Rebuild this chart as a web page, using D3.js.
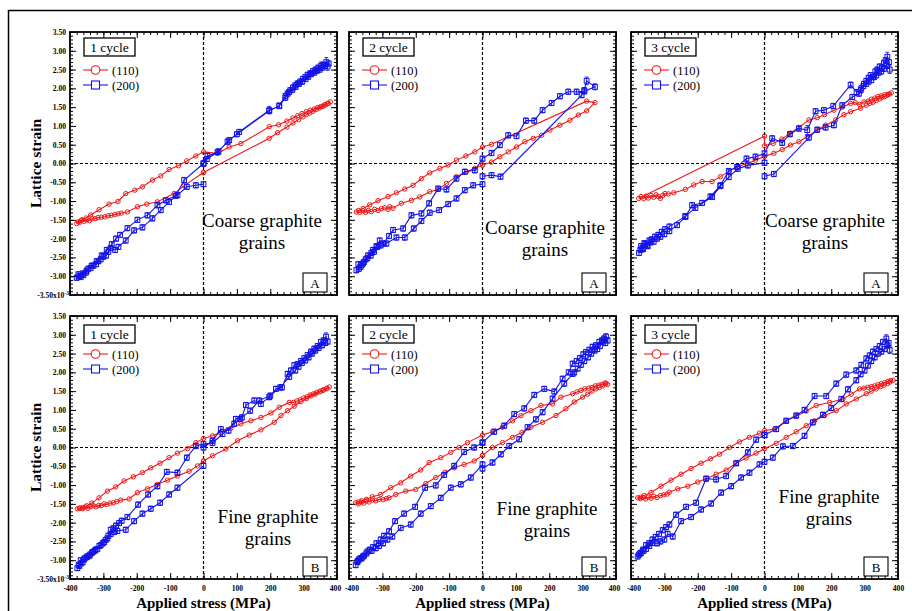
<!DOCTYPE html>
<html>
<head>
<meta charset="utf-8">
<script src="https://cdn.jsdelivr.net/npm/d3@7"></script>
<style>
  html, body { margin: 0; padding: 0; background: #fff; }
  svg { display: block; }
  text { font-family: "Liberation Serif", "Times New Roman", serif; fill: #000; }
  .tick text { font-size: 7.6px; font-weight: bold; }
  .tick line { stroke: #000; stroke-width: 1; }
  .zero-line { stroke: #000; stroke-width: 1.2; stroke-dasharray: 3,2; }
</style>
</head>
<body>
<svg id="chart" width="912" height="611"></svg>
<script>
// Lattice strain vs applied stress, six hysteresis panels (coarse / fine graphite, cycles 1-3).

const stressTicks = [-400, -300, -200, -100, 0, 100, 200, 300, 400];
const strainTicks = [-3.5, -3, -2.5, -2, -1.5, -1, -0.5, 0, 0.5, 1, 1.5, 2, 2.5, 3, 3.5];
const cycleLabels = ["1 cycle", "2 cycle", "3 cycle"];
const grainLabels = [["Coarse graphite", "grains"], ["Fine graphite", "grains"]];
const panelLetters = ["A", "B"];
const seriesNames = ["(110)", "(200)"];

// [stress MPa, strain x1e-3, optional error half-width]
const coarse1Red = [[0,-0.24],[197,0.67],[222,0.82],[250,0.97],[268,1.08],[285,1.17],[298,1.24],[308,1.3],[318,1.34],[328,1.39],[338,1.44],[348,1.48],[358,1.52],[366,1.56],[374,1.6],[380,1.64],[372,1.6],[362,1.56],[352,1.52],[342,1.49],[332,1.45],[320,1.42],[308,1.38],[295,1.33],[282,1.27],[268,1.21],[250,1.13],[225,1.03],[197,0.98],[112,0.53],[77,0.44],[42,0.27],[0,0.31],[-23,0.2],[-50,0.07],[-75,-0.06],[-103,-0.16],[-128,-0.33],[-153,-0.44],[-183,-0.62],[-206,-0.71],[-233,-0.8],[-256,-1.01],[-283,-1.08],[-313,-1.23],[-338,-1.37],[-352,-1.45],[-364,-1.5],[-375,-1.55],[-380,-1.6],[-372,-1.57],[-366,-1.51],[-358,-1.54],[-350,-1.5],[-342,-1.52],[-334,-1.47],[-325,-1.47],[-316,-1.44],[-306,-1.43],[-296,-1.42],[-286,-1.39],[-276,-1.38],[-266,-1.36],[-256,-1.34],[-246,-1.32],[-228,-1.29],[-198,-1.15],[-170,-1.08],[-138,-1.02],[-88,-0.8],[-58,-0.59],[0,-0.24]];
const coarse1Blue = [[0,0],[12,0.2],[42,0.3],[77,0.62],[107,0.84],[197,1.42,0.1],[227,1.53],[245,1.75],[252,1.86],[260,1.95],[268,2.02],[275,2.08],[282,2.13],[290,2.18],[298,2.25],[305,2.3],[312,2.36],[320,2.4],[328,2.46],[336,2.5],[344,2.55],[352,2.6,0.1],[360,2.63],[368,2.7,0.12],[375,2.66],[372,2.58,0.1],[364,2.6],[356,2.55],[348,2.5],[340,2.47],[332,2.42],[322,2.38],[314,2.31],[306,2.25],[296,2.18],[286,2.12],[276,2.04],[266,1.96],[256,1.9],[246,1.8],[227,1.54],[197,1.4],[100,0.78],[72,0.58],[45,0.32],[10,0.12],[0,0],[-58,-0.44],[-83,-0.86],[-113,-0.98],[-138,-1.11],[-168,-1.38],[-198,-1.5],[-228,-1.72],[-250,-1.9],[-262,-2.0],[-275,-2.15],[-290,-2.3],[-305,-2.45],[-320,-2.6],[-335,-2.72],[-350,-2.85],[-362,-2.93],[-372,-3.0],[-380,-3.04],[-375,-2.95],[-368,-3.02],[-360,-2.97],[-352,-2.9],[-345,-2.8],[-338,-2.78],[-330,-2.72],[-322,-2.68],[-315,-2.6],[-308,-2.55],[-300,-2.48],[-292,-2.45],[-285,-2.35],[-278,-2.25],[-265,-2.3],[-255,-2.22],[-233,-2.05],[-208,-1.78],[-183,-1.7],[-153,-1.46],[-128,-1.24],[-103,-1.02],[-78,-0.84],[-50,-0.62],[-23,-0.58],[0,-0.55]];

const coarse2Red = [[0,-0.04],[27,0.04],[52,0.18],[77,0.31],[102,0.44],[127,0.58],[152,0.67],[177,0.75],[202,0.89],[232,1.02],[262,1.15],[287,1.29],[312,1.4],[337,1.62],[312,1.66],[27,0.51],[0,0.44],[-23,0.31],[-50,0.2],[-78,0.09],[-103,-0.04],[-128,-0.13],[-158,-0.25],[-183,-0.4],[-208,-0.58],[-233,-0.68],[-258,-0.78],[-283,-0.88],[-313,-0.99],[-338,-1.1],[-358,-1.2],[-372,-1.25],[-378,-1.29],[-368,-1.3],[-358,-1.26],[-350,-1.3],[-342,-1.25],[-333,-1.28],[-323,-1.22],[-313,-1.25],[-303,-1.2],[-293,-1.18],[-283,-1.22],[-278,-1.15],[-268,-1.19],[-243,-1.06],[-213,-0.98],[-188,-0.89],[-158,-0.75],[-133,-0.69],[-108,-0.53],[-78,-0.35],[-48,-0.22],[-23,-0.13],[0,-0.04]];
const coarse2Blue = [[0,-0.34],[27,-0.31],[54,-0.35],[297,1.82],[305,1.95],[312,2.2,0.1],[337,2.04,0.08],[305,1.92],[282,1.91],[257,1.91],[232,1.79],[207,1.61],[180,1.42],[155,1.14],[130,1.14],[102,0.73],[77,0.75],[52,0.49],[27,0.28],[0,0.13],[-23,-0.18],[-53,-0.22],[-78,-0.4],[-108,-0.69],[-133,-0.67],[-160,-1.06],[-183,-1.33],[-213,-1.38],[-238,-1.73],[-268,-1.77],[-280,-1.93],[-298,-2.13],[-308,-2.05],[-318,-2.2],[-328,-2.3],[-333,-2.38],[-343,-2.45],[-350,-2.55],[-358,-2.66],[-365,-2.75],[-372,-2.68],[-378,-2.84],[-370,-2.8],[-362,-2.7],[-355,-2.62],[-345,-2.52],[-335,-2.45],[-325,-2.35],[-315,-2.22],[-305,-2.18],[-288,-2.13],[-258,-1.97],[-233,-1.97],[-206,-1.73],[-183,-1.53],[-158,-1.31],[-130,-1.24],[-103,-1.08],[-78,-0.93],[-53,-0.71],[-28,-0.58],[0,-0.55]];

const coarse3Red = [[0,0.19],[28,0.27],[53,0.37],[78,0.49],[103,0.58],[128,0.71],[158,0.89],[183,1.02],[213,1.16],[238,1.3],[258,1.38],[288,1.47],[305,1.55],[315,1.6],[325,1.63],[335,1.68],[345,1.72],[352,1.76],[360,1.78],[368,1.82],[375,1.85],[380,1.88],[370,1.84],[360,1.83],[350,1.8],[340,1.78],[330,1.74],[320,1.71],[310,1.66],[298,1.64],[285,1.57],[272,1.62],[258,1.6],[233,1.5],[208,1.42],[180,1.3],[158,1.22],[133,1.16],[103,0.96],[78,0.81],[52,0.65],[26,0.53],[0,0.47],[0,0.73],[-377,-0.93],[-370,-0.88],[-362,-0.93],[-355,-0.87],[-348,-0.92],[-340,-0.85],[-332,-0.9],[-325,-0.83],[-318,-0.88],[-312,-0.93],[-305,-0.85],[-298,-0.8],[-288,-0.81],[-272,-0.78],[-237,-0.69],[-212,-0.57],[-187,-0.48],[-157,-0.48],[-132,-0.35],[-107,-0.21],[-80,-0.08],[-52,0.0],[-27,0.09],[0,0.19]];
const coarse3Blue = [[0,-0.34],[28,-0.28],[133,0.69],[158,0.9],[183,0.96],[208,1.02],[233,1.55],[263,1.77],[283,1.86],[290,2.0],[298,2.12],[305,2.2],[312,2.28],[318,2.35],[325,2.3],[332,2.45],[338,2.5],[345,2.58],[352,2.55],[358,2.68],[363,2.75],[368,2.84,0.12],[373,2.7],[375,2.5,0.1],[366,2.6],[358,2.52],[350,2.45],[342,2.42],[335,2.35],[328,2.3],[320,2.22],[312,2.18],[305,2.12],[296,2.06],[288,1.95],[276,1.9],[258,2.09,0.08],[206,1.53],[178,1.42],[153,1.39],[128,0.89,0.12],[103,0.93],[76,0.78],[53,0.55],[23,0.67],[0,0.27],[-27,0.18],[-54,0.13],[-82,-0.09],[-107,-0.2],[-132,-0.58],[-162,-0.88],[-187,-1.05],[-217,-1.11],[-237,-1.42],[-262,-1.64],[-285,-1.8],[-300,-1.88],[-312,-1.95],[-322,-2.0],[-332,-2.08],[-342,-2.1],[-350,-2.2],[-358,-2.15],[-364,-2.28],[-370,-2.2],[-376,-2.38],[-372,-2.3],[-366,-2.25],[-360,-2.12],[-352,-2.18],[-345,-2.05],[-338,-2.02],[-328,-1.95],[-318,-1.9],[-308,-1.82],[-298,-1.75],[-285,-1.68],[-237,-1.4],[-207,-1.18],[-157,-0.89],[-132,-0.6],[-107,-0.36],[-80,-0.14],[-50,-0.05],[0,0.02]];

const fine1Red = [[0,-0.36],[27,-0.22],[67,-0.04],[102,0.18],[137,0.33],[172,0.47],[212,0.67],[232,0.85],[252,0.98],[272,1.1],[292,1.22],[308,1.3],[322,1.37],[335,1.42],[348,1.48],[358,1.52],[368,1.56],[377,1.61],[370,1.58],[360,1.54],[350,1.5],[340,1.47],[330,1.43],[320,1.4],[310,1.35],[300,1.32],[290,1.27],[280,1.24],[270,1.2],[257,1.2],[227,1.07],[202,0.92],[172,0.8],[142,0.71],[112,0.63],[82,0.51],[50,0.4],[27,0.31],[0,0.24],[-23,0.13],[-48,-0.03],[-78,-0.15],[-103,-0.27],[-130,-0.42],[-158,-0.54],[-183,-0.67],[-210,-0.78],[-238,-0.89],[-263,-1.05],[-288,-1.16],[-313,-1.34],[-335,-1.48],[-350,-1.55],[-362,-1.6],[-372,-1.62],[-378,-1.63],[-370,-1.61],[-362,-1.63],[-354,-1.58],[-346,-1.62],[-338,-1.57],[-330,-1.55],[-322,-1.58],[-314,-1.54],[-306,-1.55],[-298,-1.5],[-290,-1.52],[-280,-1.48],[-270,-1.47],[-260,-1.44],[-248,-1.4],[-223,-1.37],[-198,-1.2],[-168,-1.1],[-138,-0.98],[-108,-0.87],[-78,-0.76],[-43,-0.63],[-18,-0.49],[0,-0.36]];
const fine1Blue = [[0,0],[27,0.18],[52,0.49],[75,0.45],[97,0.76],[115,0.8],[127,1.13],[152,1.25],[172,1.16],[197,1.34],[217,1.56],[235,1.6],[252,1.96],[262,2.05],[272,2.19],[282,2.22],[292,2.3],[302,2.38],[312,2.46],[322,2.55],[332,2.63],[342,2.7],[352,2.81],[360,2.85],[367,2.95,0.1],[372,2.82],[365,2.78],[355,2.72],[345,2.65],[335,2.58],[325,2.5],[315,2.4],[305,2.32],[295,2.25],[285,2.15],[275,2.05],[257,1.88],[230,1.6],[200,1.38],[167,1.25],[140,0.98],[110,0.76],[92,0.63],[57,0.36],[27,0.12],[0,0.09],[-23,0.04],[-50,-0.27],[-78,-0.67],[-110,-0.65],[-138,-1.03],[-166,-1.25],[-196,-1.52],[-228,-1.85],[-245,-1.95],[-253,-2.01],[-262,-2.08],[-270,-2.15],[-278,-2.19],[-285,-2.35],[-293,-2.46],[-302,-2.55],[-312,-2.62],[-323,-2.72],[-332,-2.78],[-340,-2.85],[-348,-2.9],[-356,-2.95],[-362,-3.05],[-368,-3.0],[-374,-3.12],[-378,-3.21],[-372,-3.15],[-366,-3.08],[-358,-2.98],[-350,-2.92],[-342,-2.88],[-334,-2.8],[-326,-2.75],[-318,-2.7],[-308,-2.6],[-298,-2.52],[-288,-2.42],[-278,-2.3],[-268,-2.25],[-258,-2.22],[-233,-2.19],[-208,-1.96],[-183,-1.76],[-158,-1.63],[-130,-1.47],[-103,-1.25],[-78,-1.07],[0,-0.49]];

const fine2Red = [[0,-0.21],[30,0.0],[60,0.13],[90,0.27],[118,0.4],[145,0.54],[180,0.67],[220,0.85],[250,1.03],[275,1.21],[300,1.34],[315,1.42],[328,1.5],[340,1.56],[350,1.6],[360,1.64],[370,1.7],[375,1.68],[368,1.72],[358,1.68],[348,1.66],[338,1.64],[328,1.6],[318,1.58],[306,1.56],[295,1.52],[283,1.48],[270,1.43],[235,1.34],[210,1.16],[175,1.12],[145,0.98],[115,0.85],[90,0.71],[60,0.54],[30,0.42],[0,0.33],[-45,0.13],[-70,0.0],[-95,-0.13],[-125,-0.27],[-160,-0.4],[-185,-0.6],[-215,-0.76],[-245,-0.94],[-275,-1.07],[-305,-1.25],[-330,-1.31],[-348,-1.38],[-362,-1.42],[-372,-1.45],[-380,-1.47],[-372,-1.5],[-364,-1.45],[-356,-1.48],[-348,-1.42],[-340,-1.45],[-330,-1.4],[-320,-1.42],[-310,-1.38],[-298,-1.39],[-288,-1.36],[-280,-1.34],[-260,-1.25],[-230,-1.16],[-200,-1.12],[-170,-0.96],[-140,-0.8],[-112,-0.66],[-85,-0.54],[-55,-0.45],[-25,-0.36],[0,-0.21]];
const fine2Blue = [[0,0.13],[35,0.42],[65,0.58],[95,0.89],[125,1.04],[155,1.4],[185,1.56],[215,1.49],[240,1.83],[258,2.0],[270,2.23],[282,2.3],[292,2.38],[302,2.48],[310,2.54],[320,2.6],[330,2.68],[340,2.72],[350,2.81],[358,2.85],[364,2.9],[370,2.95,0.08],[375,2.85],[368,2.78],[360,2.82],[352,2.7],[344,2.62],[336,2.58],[326,2.5],[316,2.4],[305,2.3],[295,2.2],[285,2.1],[275,2.0],[270,1.96],[245,1.7],[210,1.3],[180,0.94],[160,0.75],[135,0.54],[110,0.22],[80,0.04],[55,-0.18],[30,-0.4],[0,-0.56],[0,-0.45],[-35,-0.8],[-65,-0.98],[-95,-1.07],[-125,-1.34],[-155,-1.56],[-185,-1.76],[-215,-2.05],[-245,-2.14],[-270,-2.37],[-285,-2.45],[-298,-2.55],[-310,-2.62],[-320,-2.68],[-332,-2.75],[-345,-2.77],[-355,-2.88],[-362,-2.95],[-370,-2.98],[-375,-3.05],[-380,-3.13],[-374,-3.02],[-366,-2.95],[-358,-2.9],[-348,-2.82],[-338,-2.72],[-328,-2.65],[-318,-2.55],[-305,-2.45],[-295,-2.35],[-280,-2.23],[-262,-1.96],[-235,-1.76],[-202,-1.58],[-172,-1.07],[-140,-1.01],[-115,-0.73],[-85,-0.49],[-55,-0.12],[-25,0.0],[0,0.13]];

const fine3Red = [[0,-0.03],[35,0.11],[65,0.27],[95,0.42],[125,0.58],[150,0.71],[180,0.85],[215,0.98],[245,1.16],[275,1.29],[305,1.43],[320,1.5],[335,1.56],[348,1.62],[358,1.66],[368,1.7],[376,1.74],[385,1.79],[378,1.78],[370,1.76],[360,1.73],[350,1.7],[340,1.67],[330,1.64],[320,1.62],[310,1.6],[298,1.58],[285,1.56],[260,1.42],[235,1.29],[195,1.2],[155,1.12],[125,0.97],[95,0.83],[65,0.71],[30,0.49],[0,0.45],[-15,0.38],[-45,0.27],[-75,0.15],[-105,0.0],[-135,-0.18],[-162,-0.3],[-190,-0.42],[-220,-0.56],[-250,-0.71],[-280,-0.87],[-310,-1.03],[-340,-1.2],[-360,-1.28],[-372,-1.32],[-380,-1.34],[-372,-1.36],[-364,-1.33],[-356,-1.37],[-348,-1.32],[-340,-1.35],[-332,-1.3],[-322,-1.33],[-312,-1.28],[-302,-1.26],[-292,-1.24],[-285,-1.19],[-260,-1.1],[-230,-1.03],[-200,-0.92],[-172,-0.82],[-145,-0.71],[-115,-0.6],[-85,-0.42],[-55,-0.28],[-25,-0.15],[0,-0.03]];
const fine3Blue = [[0,0.33],[35,0.49],[65,0.71],[95,0.85],[120,1.0],[150,1.37],[185,1.37],[215,1.7],[245,1.94],[275,2.05],[290,2.2],[305,2.37],[315,2.45],[325,2.55],[335,2.62],[345,2.7],[355,2.81],[365,2.9,0.1],[372,2.78],[375,2.6,0.1],[368,2.72],[360,2.62],[350,2.55],[340,2.5],[330,2.4],[320,2.3],[310,2.18],[300,2.05],[288,1.95],[275,1.79],[250,1.55],[230,1.29],[200,1.05],[175,0.87],[145,0.67],[120,0.31],[85,0.04],[55,0.03],[25,-0.27],[0,-0.38],[-15,-0.45],[-45,-0.67],[-70,-0.8],[-100,-1.03],[-130,-1.2],[-160,-1.49],[-190,-1.65],[-220,-1.85],[-250,-1.96],[-275,-2.37],[-290,-2.3],[-300,-2.45],[-312,-2.5],[-322,-2.55],[-335,-2.54],[-345,-2.62],[-355,-2.7],[-362,-2.75],[-370,-2.8],[-376,-2.85],[-380,-2.9],[-372,-2.82],[-364,-2.72],[-355,-2.6],[-346,-2.55],[-336,-2.45],[-326,-2.38],[-316,-2.3],[-305,-2.2],[-295,-2.12],[-285,-2.05],[-265,-1.79],[-235,-1.58],[-205,-1.47],[-175,-0.83],[-145,-0.85],[-115,-0.76],[-85,-0.42],[-50,-0.13],[-25,0.21],[0,0.33]];

const panelSeries = [
  [[coarse1Red, coarse1Blue], [coarse2Red, coarse2Blue], [coarse3Red, coarse3Blue]],
  [[fine1Red, fine1Blue], [fine2Red, fine2Blue], [fine3Red, fine3Blue]]
];

// Layout
const panelLeft = [70, 349, 631];
const panelTop = [32, 316];
const panelW = 267;
const panelH = 263;
const legendBoxTop = [6, 9];
const noteX = [[192, 196, 194], [198, 198, 198]];
const noteY = [[195, 202, 195], [207, 199, 187]];
const redColor = "#f01818";
const blueColor = "#1414e6";
const defaultBlueErr = 0.07;

const svg = d3.select("#chart");

svg.append("rect")
  .attr("x", 8.5).attr("y", 10.5)
  .attr("width", 1000).attr("height", 1000)
  .attr("fill", "none").attr("stroke", "#000").attr("stroke-width", 1.5);

// Draws a polyline with open markers (and optional vertical error bars).
function drawSeries(g, x, y, data, color, shape, defaultErr) {
  const line = d3.line().x(d => x(d[0])).y(d => y(d[1]));
  g.append("path")
    .datum(data)
    .attr("d", line)
    .attr("fill", "none")
    .attr("stroke", color)
    .attr("stroke-width", 1.1);

  if (defaultErr > 0) {
    const bars = g.append("g").attr("stroke", color).attr("stroke-width", 0.9);
    data.forEach(function addBar(d) {
      const e = d.length > 2 ? d[2] : defaultErr;
      const cx = x(d[0]);
      const y0 = y(d[1] - e);
      const y1 = y(d[1] + e);
      bars.append("line").attr("x1", cx).attr("x2", cx).attr("y1", y0).attr("y2", y1);
      bars.append("line").attr("x1", cx - 2).attr("x2", cx + 2).attr("y1", y0).attr("y2", y0);
      bars.append("line").attr("x1", cx - 2).attr("x2", cx + 2).attr("y1", y1).attr("y2", y1);
    });
  }

  const marks = g.append("g").attr("fill", "none").attr("stroke", color).attr("stroke-width", 1);
  if (shape === "circle") {
    marks.selectAll("circle").data(data).enter().append("circle")
      .attr("cx", d => x(d[0])).attr("cy", d => y(d[1])).attr("r", 2.2);
  } else {
    marks.selectAll("rect").data(data).enter().append("rect")
      .attr("x", d => x(d[0]) - 2.4).attr("y", d => y(d[1]) - 2.4)
      .attr("width", 4.8).attr("height", 4.8);
  }
}

// Adds a major + minor tick axis on one side of a panel; labels only when fmt is given.
function addAxis(g, axisFn, scale, transform, majors, minors, fmt) {
  const major = g.append("g").attr("transform", transform)
    .call(axisFn(scale).tickValues(majors).tickSizeInner(-6).tickSizeOuter(0)
      .tickPadding(axisFn === d3.axisLeft ? 4 : 6.5).tickFormat(fmt || (() => "")));
  const minor = g.append("g").attr("transform", transform)
    .call(axisFn(scale).tickValues(minors).tickSizeInner(-3).tickSizeOuter(0));
  major.select(".domain").remove();
  minor.select(".domain").remove();
  minor.selectAll("text").remove();
  if (!fmt) major.selectAll("text").remove();
  return major;
}

function drawPanel(row, col) {
  const g = svg.append("g").attr("transform", "translate(" + panelLeft[col] + "," + panelTop[row] + ")");
  const x = d3.scaleLinear().domain([-400, 400]).range([0, panelW]);
  const y = d3.scaleLinear().domain([-3.5, 3.5]).range([panelH, 0]);
  const stressMinor = d3.range(-400, 401, 20);
  const strainMinor = d3.range(-35, 36).map(v => v / 10);

  g.append("line").attr("class", "zero-line")
    .attr("x1", 0).attr("x2", panelW).attr("y1", y(0)).attr("y2", y(0));
  g.append("line").attr("class", "zero-line")
    .attr("x1", x(0)).attr("x2", x(0)).attr("y1", 0).attr("y2", panelH);

  const series = panelSeries[row][col];
  drawSeries(g, x, y, series[0], redColor, "circle", 0);
  drawSeries(g, x, y, series[1], blueColor, "square", defaultBlueErr);

  const bottom = addAxis(g, d3.axisBottom, x, "translate(0," + panelH + ")", stressTicks, stressMinor,
    row === 1 ? (d => String(d)) : null);
  addAxis(g, d3.axisTop, x, "translate(0,0)", stressTicks, stressMinor, null);
  const left = addAxis(g, d3.axisLeft, y, "translate(0,0)", strainTicks, strainMinor,
    col === 0 ? (d => (d === -3.5 ? "-3.50x10" : d.toFixed(2))) : null);
  addAxis(g, d3.axisRight, y, "translate(" + panelW + ",0)", strainTicks, strainMinor, null);

  if (row === 1) {
    // keep neighbouring "400" / "-400" labels apart
    bottom.selectAll(".tick text").filter(d => d === 400).attr("dx", col < 2 ? "-2px" : "0px");
    bottom.selectAll(".tick text").filter(d => d === -400).attr("dx", col > 0 ? "2.5px" : "0px");
  }

  if (col === 0) {
    left.selectAll(".tick text")
      .filter(d => d === -3.5)
      .attr("dx", "3px")
      .append("tspan")
      .attr("dy", "-3")
      .attr("font-size", "5.5px")
      .text("-3");
  }

  g.append("rect")
    .attr("width", panelW).attr("height", panelH)
    .attr("fill", "none").attr("stroke", "#000").attr("stroke-width", 1.8);

  // Cycle box
  const bt = legendBoxTop[row];
  g.append("rect")
    .attr("x", 14).attr("y", bt).attr("width", 51).attr("height", 18)
    .attr("fill", "#fff").attr("stroke", "#000").attr("stroke-width", 1.3);
  g.append("text")
    .attr("x", 39.5).attr("y", bt + 13.5)
    .attr("text-anchor", "middle").attr("font-size", "13.5px")
    .text(cycleLabels[col]);

  // Series legend
  [38, 53].forEach(function addEntry(ly, i) {
    const color = i === 0 ? redColor : blueColor;
    g.append("line").attr("x1", 13).attr("x2", 38).attr("y1", ly).attr("y2", ly)
      .attr("stroke", color).attr("stroke-width", 1.1);
    if (i === 0) {
      g.append("circle").attr("cx", 25.5).attr("cy", ly).attr("r", 4.3)
        .attr("fill", "#fff").attr("stroke", color).attr("stroke-width", 1.1);
    } else {
      g.append("rect").attr("x", 21.5).attr("y", ly - 4).attr("width", 8).attr("height", 8)
        .attr("fill", "#fff").attr("stroke", color).attr("stroke-width", 1.1);
    }
    g.append("text").attr("x", 42).attr("y", ly + 4.5)
      .attr("font-size", "12.5px").text(seriesNames[i]);
  });

  // Grain size note
  grainLabels[row].forEach(function addLine(t, i) {
    g.append("text")
      .attr("x", noteX[row][col]).attr("y", noteY[row][col] + i * 21.5)
      .attr("text-anchor", "middle").attr("font-size", "19px")
      .text(t);
  });

  // Letter box
  g.append("rect")
    .attr("x", panelW - 34).attr("y", panelH - 22).attr("width", 24).attr("height", 19)
    .attr("fill", "#fff").attr("stroke", "#000").attr("stroke-width", 1.1);
  g.append("text")
    .attr("x", panelW - 22).attr("y", panelH - 7.5)
    .attr("text-anchor", "middle").attr("font-size", "13px")
    .text(panelLetters[row]);
}

for (let row = 0; row < 2; row++) {
  for (let col = 0; col < 3; col++) {
    drawPanel(row, col);
  }
}

// Axis titles
panelTop.forEach(function addYTitle(top) {
  const cy = top + panelH / 2;
  svg.append("text")
    .attr("transform", "translate(41," + cy + ") rotate(-90)")
    .attr("text-anchor", "middle").attr("font-size", "15.5px").attr("font-weight", "bold")
    .text("Lattice strain");
});
panelLeft.forEach(function addXTitle(left) {
  svg.append("text")
    .attr("x", left + panelW / 2).attr("y", 607.5)
    .attr("text-anchor", "middle").attr("font-size", "15px").attr("font-weight", "bold")
    .text("Applied stress (MPa)");
});
</script>
</body>
</html>
